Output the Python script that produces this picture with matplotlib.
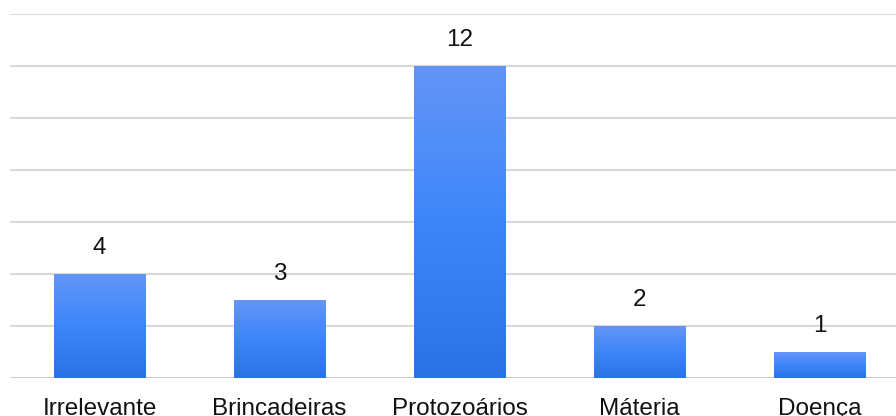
import numpy as np
import matplotlib
matplotlib.use("Agg")
import matplotlib.pyplot as plt
from matplotlib.colors import LinearSegmentedColormap

categories = ["Irrelevante", "Brincadeiras", "Protozoários", "Máteria", "Doença"]
values = [4, 3, 12, 2, 1]
y_ticks = [0, 2, 4, 6, 8, 10, 12, 14]

plt.rcParams["font.family"] = ["Liberation Sans", "DejaVu Sans"]

W, H = 896, 416
fig = plt.figure(figsize=(W / 100, H / 100), dpi=100)
# axes extends slightly past the right edge of the canvas
ax = fig.add_axes([9.5 / W, 38 / H, 900 / W, 364 / H])

x = np.arange(len(categories))
bars = ax.bar(x, values, width=0.506, color="none", zorder=2)

grad_cmap = LinearSegmentedColormap.from_list(
    "bar_grad", ["#2b72e6", "#3d86fa", "#6495f7"])
grad = np.linspace(0, 1, 256).reshape(-1, 1)
for rect in bars:
    x0, y0 = rect.get_x(), rect.get_y()
    w, h = rect.get_width(), rect.get_height()
    im = ax.imshow(grad, cmap=grad_cmap, origin="lower", aspect="auto",
                   extent=[x0, x0 + w, y0, y0 + h], zorder=2,
                   interpolation="bilinear")
    im.set_clip_path(rect)

for xi, v in zip(x, values):
    ax.annotate(str(v), (xi, v), xytext=(0, 11), textcoords="offset points",
                ha="center", va="bottom", fontsize=17.5, color="#111111")

ax.set_xlim(-0.5, len(categories) - 0.5)
ax.set_ylim(0, 14)
ax.set_yticks(y_ticks)
ax.yaxis.grid(True, color="#d9d9d9", linewidth=1.5, zorder=0)
ax.set_axisbelow(True)
ax.tick_params(axis="y", left=False, labelleft=False)
ax.set_xticks(x)
ax.set_xticklabels(categories, fontsize=17.5, color="#111111")
ax.tick_params(axis="x", length=0, pad=14.5)
for s in ax.spines.values():
    s.set_visible(False)
ax.axhline(0, color="#d0d0d0", linewidth=2, zorder=1)

fig.savefig("out.png", dpi=100)
